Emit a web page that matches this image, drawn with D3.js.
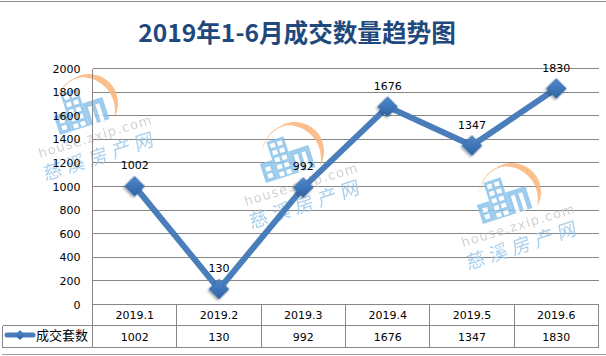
<!DOCTYPE html>
<html lang="zh">
<head>
<meta charset="UTF-8">
<title>2019年1-6月成交数量趋势图</title>
<script src="https://d3js.org/d3.v7.min.js"></script>
<style>
    body { margin: 0; background: #fff; }
    svg { display: block; }
    text { font-family: "DejaVu Sans", sans-serif; font-size: 11px; fill: #000; }
    .cjk { font-family: "Noto Sans CJK SC", sans-serif; }
    .grid, .table-line { stroke: #868686; stroke-width: 1px; shape-rendering: crispEdges; }
</style>
</head>
<body>
<div id="chart"></div>
<script>
    var titleText = "2019年1-6月成交数量趋势图";
    var seriesName = "成交套数";
    var categories = ["2019.1", "2019.2", "2019.3", "2019.4", "2019.5", "2019.6"];
    var values = [1002, 130, 992, 1676, 1347, 1830];
    var yTicks = [0, 200, 400, 600, 800, 1000, 1200, 1400, 1600, 1800, 2000];

    var W = 606, H = 356;
    var left = 92.5, right = 598.5, top_ = 68.5, bottom = 304.5;
    var row1 = 325.5, row2 = 347.5, tableLeft = 2.5;

    var svg = d3.select("#chart").append("svg")
        .attr("width", W)
        .attr("height", H);

    var defs = svg.append("defs");
    var grad = defs.append("linearGradient")
        .attr("id", "markerFill")
        .attr("x1", 0).attr("y1", 0).attr("x2", 1).attr("y2", 1);
    grad.append("stop").attr("offset", "0%").attr("stop-color", "#4f8acb");
    grad.append("stop").attr("offset", "100%").attr("stop-color", "#2f62a3");
    var shadow = defs.append("filter").attr("id", "markerShadow")
        .attr("x", "-30%").attr("y", "-30%").attr("width", "160%").attr("height", "160%");
    shadow.append("feDropShadow")
        .attr("dx", 0).attr("dy", 2).attr("stdDeviation", 1)
        .attr("flood-color", "#000").attr("flood-opacity", 0.35);

    var x = d3.scaleBand().domain(categories).range([left, right]);
    var y = d3.scaleLinear().domain([0, 2000]).range([bottom, top_]);

    // picture frame lines, top and bottom
    svg.append("line").attr("class", "table-line")
        .attr("x1", 0).attr("x2", W).attr("y1", 1.5).attr("y2", 1.5).style("stroke", "#8c8c8c");
    svg.append("line").attr("class", "table-line")
        .attr("x1", 2).attr("x2", W).attr("y1", 354.5).attr("y2", 354.5).style("stroke", "#a0a0a0");

    // title
    svg.append("text")
        .attr("class", "cjk")
        .attr("x", 297)
        .attr("y", 41.5)
        .attr("text-anchor", "middle")
        .style("font-size", "24.6px")
        .style("font-weight", "bold")
        .style("fill", "#1f497d")
        .text(titleText);

    // gridlines
    svg.append("g").selectAll("line")
        .data(yTicks)
        .enter().append("line")
        .attr("class", "grid")
        .attr("x1", left).attr("x2", right)
        .attr("y1", d => Math.round(y(d) - 0.5) + 0.5)
        .attr("y2", d => Math.round(y(d) - 0.5) + 0.5);

    // crescent between two arcs sharing the same end points
    function crescent(r, r2, a0, a1) {
        var sx = r * Math.sin(a0), sy = -r * Math.cos(a0);
        var ex = r * Math.sin(a1), ey = -r * Math.cos(a1);
        return "M" + sx + "," + sy + "A" + r + "," + r + " 0 0 1 " + ex + "," + ey +
            "A" + r2 + "," + r2 + " 0 0 0 " + sx + "," + sy + "Z";
    }

    // watermarks, sit over the gridlines but under the series
    function watermark(ox, oy) {
        var g = svg.append("g")
            .attr("transform", "translate(" + ox + "," + oy + ")")
            .attr("opacity", 0.85);
        var arcs = g.append("g").attr("transform", "translate(29,-32)").attr("fill", "#fbb57a");
        arcs.append("path").attr("d", crescent(29, 33, -0.55, 2.1));
        arcs.append("path").attr("d", crescent(30, 32, -1.5, 0.2))
            .attr("transform", "translate(-3,3)");

        var b = g.append("g").attr("transform", "rotate(-18)");
        var blue = "#8cc3ea";
        // x, y, w, h of the block parts in the logo's own frame
        [[0, -20, 13, 20], [13, -39, 18, 39], [31, -23, 21, 23]].forEach(p => {
            b.append("rect").attr("x", p[0]).attr("y", p[1]).attr("width", p[2]).attr("height", p[3]).attr("fill", blue);
        });
        // windows on the tower
        d3.range(5).forEach(r => d3.range(2).forEach(c => {
            b.append("rect")
                .attr("x", 15.5 + c * 7.5).attr("y", -36 + r * 7.5)
                .attr("width", 5).attr("height", 4.5).attr("fill", "#fff");
        }));
        d3.range(2).forEach(r => b.append("rect")
            .attr("x", 4).attr("y", -15 + r * 7).attr("width", 5).attr("height", 4.5).attr("fill", "#fff"));
        [35, 43].forEach(bx => b.append("rect")
            .attr("x", bx).attr("y", -18).attr("width", 4).attr("height", 18).attr("fill", "#fff"));

        g.append("text")
            .attr("transform", "translate(-20,23) rotate(-17)")
            .style("font-size", "13px")
            .style("letter-spacing", "1.2px")
            .style("fill", "#cacaca")
            .text("house.zxip.com");
        g.append("text")
            .attr("class", "cjk")
            .attr("transform", "translate(-15,46) rotate(-18) skewX(-8)")
            .style("font-size", "19px")
            .style("letter-spacing", "5px")
            .style("fill", "#9cc8e8")
            .text("慈溪房产网");
    }
    watermark(60, 135);
    watermark(266, 183);
    watermark(483, 224);

    // y axis labels
    var yAxis = svg.append("g")
        .attr("transform", "translate(" + left + ",0)")
        .call(d3.axisLeft(y).tickValues(yTicks).tickSize(0).tickPadding(12).tickFormat(d3.format("d")));
    yAxis.select(".domain").remove();
    yAxis.selectAll("text")
        .style("font-family", '"DejaVu Sans", sans-serif')
        .style("font-size", "11px");

    // data table
    var t = svg.append("g");
    [bottom, row1, row2].forEach((ly, i) => {
        t.append("line").attr("class", "table-line")
            .attr("x1", i === 0 ? left : tableLeft).attr("x2", right)
            .attr("y1", ly).attr("y2", ly);
    });
    t.append("line").attr("class", "table-line")
        .attr("x1", left).attr("x2", left).attr("y1", top_).attr("y2", row2);
    t.append("line").attr("class", "table-line")
        .attr("x1", tableLeft).attr("x2", tableLeft).attr("y1", row1).attr("y2", row2);
    categories.forEach(c => {
        var lx = Math.round(x(c) + x.step() - 0.5) + 0.5;
        t.append("line").attr("class", "table-line")
            .attr("x1", lx).attr("x2", lx).attr("y1", bottom).attr("y2", row2);
    });
    t.selectAll(".cat")
        .data(categories)
        .enter().append("text")
        .attr("class", "cat")
        .attr("x", d => x(d) + x.step() / 2)
        .attr("y", 319)
        .attr("text-anchor", "middle")
        .text(d => d);
    t.selectAll(".val")
        .data(values)
        .enter().append("text")
        .attr("class", "val")
        .attr("x", (d, i) => x(categories[i]) + x.step() / 2)
        .attr("y", 341)
        .attr("text-anchor", "middle")
        .text(d => d);

    // legend key in the table
    var diamond = d3.symbol().type(d3.symbolSquare);
    t.append("line")
        .attr("x1", 7).attr("x2", 33).attr("y1", 335).attr("y2", 335)
        .attr("stroke", "#4a7ebb").attr("stroke-width", 5).attr("stroke-linecap", "round");
    t.append("path")
        .attr("d", diamond.size(50)())
        .attr("transform", "translate(20,335) rotate(45)")
        .attr("fill", "url(#markerFill)");
    t.append("text")
        .attr("class", "cjk")
        .attr("x", 36)
        .attr("y", 340)
        .style("font-size", "13px")
        .text(seriesName);

    // series
    var line = d3.line()
        .x((d, i) => x(categories[i]) + x.step() / 2)
        .y(d => y(d));
    svg.append("path")
        .datum(values)
        .attr("d", line)
        .attr("fill", "none")
        .attr("stroke", "#4a7ebb")
        .attr("stroke-width", 6);
    svg.append("g").selectAll("path")
        .data(values)
        .enter().append("path")
        .attr("d", diamond.size(200)())
        .attr("transform", (d, i) => "translate(" + (x(categories[i]) + x.step() / 2) + "," + y(d) + ") rotate(45)")
        .attr("fill", "url(#markerFill)")
        .attr("stroke", "#386ba8")
        .attr("stroke-width", 0.5)
        .attr("filter", "url(#markerShadow)");

    svg.append("g").selectAll("text")
        .data(values)
        .enter().append("text")
        .attr("x", (d, i) => x(categories[i]) + x.step() / 2)
        .attr("y", d => y(d) - 17)
        .attr("text-anchor", "middle")
        .text(d => d);
</script>
</body>
</html>
